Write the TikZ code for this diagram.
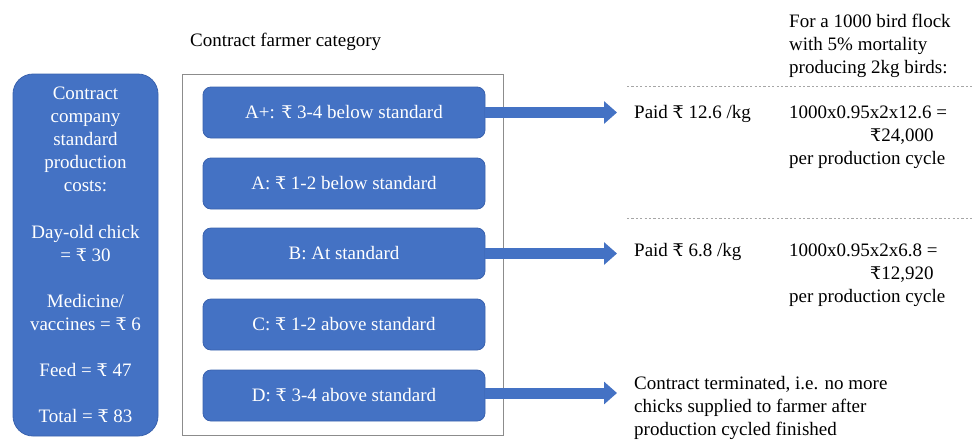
\documentclass[tikz,border=0pt]{standalone}
\usepackage{fontspec}
\setmainfont{Liberation Serif}
\newfontfamily\rsfont[Scale=0.92]{DejaVu Serif}
\newcommand\Rs{{\rsfont ₹}}
\usetikzlibrary{arrows.meta}
\definecolor{obl}{HTML}{4472C4}
\definecolor{obd}{HTML}{3A62AE}
\definecolor{frm}{HTML}{8C8C8C}
\definecolor{dsh}{HTML}{A6A6A6}
\begin{document}
\begin{tikzpicture}[x=1pt,y=-1pt,
  font=\fontsize{19}{23.1}\selectfont,
  bluebox/.style={fill=obl, draw=obd, line width=0.8pt, text=white, rounded corners=8pt,
    minimum width=282pt, minimum height=51pt, inner sep=0pt},
  costbox/.style={fill=obl, draw=obd, line width=0.8pt, text=white, rounded corners=20pt,
    minimum width=145pt, minimum height=362pt, inner sep=0pt, align=center},
  txt/.style={anchor=base west, inner sep=0pt, text=black},
  fatarrow/.style={draw=obl, line width=11pt, -{Triangle[length=13pt,width=22pt]}},
  sep/.style={draw=dsh, line width=0.9pt, dash pattern=on 2.2pt off 2.2pt}
]
\useasboundingbox (0,0) rectangle (975,440);

% left cost box
\node[costbox] (cost) at (85.5,255) {Contract\\company\\standard\\production\\costs:\\[23.1pt]Day-old chick\\= \Rs\ 30\\[23.1pt]Medicine/\\vaccines = \Rs\ 6\\[23.1pt]Feed = \Rs\ 47\\[23.1pt]Total = \Rs\ 83};

% title
\node[txt] (title) at (190,46.5) {Contract farmer category};

% frame
\draw[frm, line width=0.9pt] (182,74) rectangle (503,435);

% category boxes
\node[bluebox] (c1) at (344,112.5) {A+: \Rs\ 3-4 below standard};
\node[bluebox] (c2) at (344,183.5) {A: \Rs\ 1-2 below standard};
\node[bluebox] (c3) at (344,253.5) {B: At standard};
\node[bluebox] (c4) at (344,324.5) {C: \Rs\ 1-2 above standard};
\node[bluebox] (c5) at (344,395.5) {D: \Rs\ 3-4 above standard};

% arrow tips
\coordinate (t1) at (617,112.5);
\coordinate (t3) at (617,253.5);
\coordinate (t5) at (617,393);
\draw[fatarrow] (c1.east) -- (t1);
\draw[fatarrow] (c3.east) -- (t3);
\draw[fatarrow] ([yshift=2.5pt]c5.east) -- (t5);

% header right
\node[txt] (h1) at (789,27) {For a 1000 bird flock};
\node[txt] (h2) at (789,50) {with 5\% mortality};
\node[txt] (h3) at (789,73) {producing 2kg birds:};

% dashed separators
\draw[sep] (627,86) -- (973,86);
\draw[sep] (627,218) -- (973,218);

% A+ outcome
\node[txt] (p1) at (634,118) {Paid \Rs\ 12.6 /kg};
\node[txt] (f1a) at (789,118) {1000x0.95x2x12.6 =};
\node[txt] (f1b) at (870,141) {\Rs24,000};
\node[txt] (f1c) at (789,164) {per production cycle};

% B outcome
\node[txt] (p3) at (634,256.5) {Paid \Rs\ 6.8 /kg};
\node[txt] (f3a) at (789,256.5) {1000x0.95x2x6.8 =};
\node[txt] (f3b) at (870,279.5) {\Rs12,920};
\node[txt] (f3c) at (789,302.5) {per production cycle};

% D outcome
\node[txt] (d1) at (634,389) {Contract terminated, i.e. no more};
\node[txt] (d2) at (634,412) {chicks supplied to farmer after};
\node[txt] (d3) at (634,435) {production cycled finished};
\end{tikzpicture}
\end{document}
